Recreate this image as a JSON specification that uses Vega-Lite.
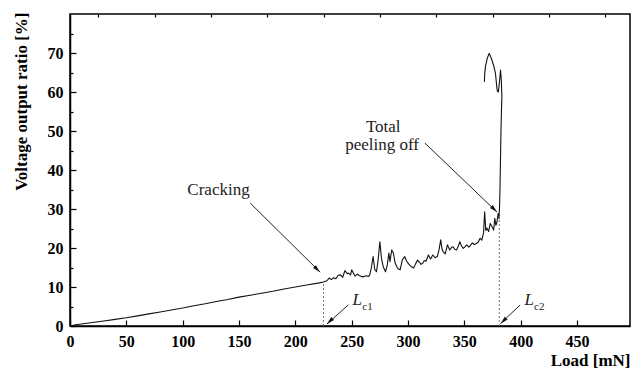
{
  "$schema": "https://vega.github.io/schema/vega-lite/v6.json",
  "width": 560,
  "height": 312,
  "autosize": {"type": "none"},
  "padding": {"left": 70, "top": 14, "right": 6, "bottom": 44},
  "background": "white",
  "config": {
    "view": {"stroke": "black", "strokeWidth": 1.5},
    "font": "Liberation Serif",
    "axis": {
      "domainColor": "black", "domainWidth": 1.5, "tickColor": "black", "tickWidth": 1.2,
      "labelFont": "Liberation Serif", "labelFontWeight": "bold", "labelFontSize": 16, "labelColor": "black",
      "titleFont": "Liberation Serif", "titleFontWeight": "bold", "titleFontSize": 17, "titleColor": "black",
      "grid": false, "labelFlush": false
    },
    "text": {"font": "Liberation Serif"}
  },
  "datasets": {
    "curve": [
      {"i":1,"x":0,"y":0},{"i":2,"x":5,"y":0.3},{"i":3,"x":10,"y":0.5},{"i":4,"x":20,"y":0.9},{"i":5,"x":30,"y":1.3},
      {"i":6,"x":40,"y":1.7},{"i":7,"x":50,"y":2.1},{"i":8,"x":60,"y":2.6},{"i":9,"x":70,"y":3.1},{"i":10,"x":80,"y":3.6},
      {"i":11,"x":90,"y":4.1},{"i":12,"x":100,"y":4.6},{"i":13,"x":110,"y":5.2},{"i":14,"x":120,"y":5.7},{"i":15,"x":130,"y":6.3},
      {"i":16,"x":140,"y":6.8},{"i":17,"x":150,"y":7.4},{"i":18,"x":160,"y":7.9},{"i":19,"x":170,"y":8.4},{"i":20,"x":180,"y":8.9},
      {"i":21,"x":190,"y":9.5},{"i":22,"x":200,"y":10.0},{"i":23,"x":210,"y":10.5},{"i":24,"x":220,"y":11.0},{"i":25,"x":225,"y":11.3},
      {"i":26,"x":228,"y":11.6},{"i":27,"x":230,"y":12.3},{"i":28,"x":232,"y":11.9},{"i":29,"x":234,"y":12.4},{"i":30,"x":236,"y":12.1},
      {"i":31,"x":238,"y":13.0},{"i":32,"x":240,"y":13.1},{"i":33,"x":242,"y":12.5},{"i":34,"x":244,"y":14.2},{"i":35,"x":246,"y":13.4},
      {"i":36,"x":247,"y":13.6},{"i":37,"x":249,"y":13.1},{"i":38,"x":250,"y":14.4},{"i":39,"x":251.5,"y":13.6},{"i":40,"x":253,"y":12.8},
      {"i":41,"x":255,"y":13.3},{"i":42,"x":257,"y":12.9},{"i":43,"x":260,"y":12.6},{"i":44,"x":263,"y":12.9},{"i":45,"x":265,"y":12.7},
      {"i":46,"x":266,"y":13.1},{"i":47,"x":267.5,"y":15.0},{"i":48,"x":269,"y":17.8},{"i":49,"x":270.5,"y":14.5},{"i":50,"x":272,"y":13.9},
      {"i":51,"x":273.5,"y":17.0},{"i":52,"x":275,"y":21.6},{"i":53,"x":276.5,"y":17.2},{"i":54,"x":278,"y":15.2},{"i":55,"x":280,"y":13.9},
      {"i":56,"x":281.5,"y":15.5},{"i":57,"x":283,"y":18.7},{"i":58,"x":284,"y":16.5},{"i":59,"x":285.5,"y":19.5},{"i":60,"x":287,"y":18.7},
      {"i":61,"x":288.5,"y":16.2},{"i":62,"x":290,"y":15.2},{"i":63,"x":291.5,"y":14.6},{"i":64,"x":293,"y":14.4},{"i":65,"x":295,"y":17.0},
      {"i":66,"x":297,"y":17.8},{"i":67,"x":298.5,"y":16.8},{"i":68,"x":300,"y":16.1},{"i":69,"x":301.5,"y":15.6},{"i":70,"x":303,"y":15.2},
      {"i":71,"x":305,"y":14.9},{"i":72,"x":306.5,"y":15.8},{"i":73,"x":308.5,"y":16.9},{"i":74,"x":310,"y":16.4},{"i":75,"x":311.5,"y":15.8},
      {"i":76,"x":313,"y":16.1},{"i":77,"x":314.5,"y":16.8},{"i":78,"x":316,"y":16.6},{"i":79,"x":318,"y":18.2},{"i":80,"x":320,"y":17.2},
      {"i":81,"x":322,"y":18.2},{"i":82,"x":324,"y":17.5},{"i":83,"x":326,"y":17.8},{"i":84,"x":327.5,"y":19.5},{"i":85,"x":329,"y":22.1},
      {"i":86,"x":330,"y":20.0},{"i":87,"x":331,"y":19.1},{"i":88,"x":333,"y":18.5},{"i":89,"x":335,"y":20.8},{"i":90,"x":337,"y":19.5},
      {"i":91,"x":338.5,"y":20.1},{"i":92,"x":340,"y":20.3},{"i":93,"x":341.5,"y":19.6},{"i":94,"x":343,"y":19.5},{"i":95,"x":344.5,"y":20.4},
      {"i":96,"x":346,"y":21.6},{"i":97,"x":347.5,"y":20.5},{"i":98,"x":349,"y":19.9},{"i":99,"x":350.5,"y":20.3},{"i":100,"x":352,"y":20.8},
      {"i":101,"x":354,"y":20.2},{"i":102,"x":355.5,"y":20.7},{"i":103,"x":357,"y":21.3},{"i":104,"x":359,"y":20.9},{"i":105,"x":361,"y":21.2},
      {"i":106,"x":362.5,"y":21.6},{"i":107,"x":364,"y":22.5},{"i":108,"x":365.5,"y":22.0},{"i":109,"x":367,"y":23.8},{"i":110,"x":368,"y":29.3},
      {"i":111,"x":369,"y":24.5},{"i":112,"x":370,"y":25.1},{"i":113,"x":371.5,"y":24.2},{"i":114,"x":373,"y":26.3},{"i":115,"x":374.5,"y":25.5},
      {"i":116,"x":376,"y":24.6},{"i":117,"x":377,"y":27.6},{"i":118,"x":378,"y":25.8},{"i":119,"x":379,"y":26.8},{"i":120,"x":380,"y":28.9},
      {"i":121,"x":380.8,"y":27.5},{"i":122,"x":381.2,"y":30.5},{"i":123,"x":381.6,"y":35},{"i":124,"x":381.9,"y":40},{"i":125,"x":382.2,"y":45},
      {"i":126,"x":382.5,"y":50},{"i":127,"x":382.9,"y":55},{"i":128,"x":383.3,"y":58.8},{"i":129,"x":382.8,"y":63},{"i":130,"x":382.1,"y":65.6},
      {"i":131,"x":381.3,"y":63},{"i":132,"x":380.2,"y":60},{"i":133,"x":379.2,"y":60.3},{"i":134,"x":378.7,"y":61.5},{"i":135,"x":377.6,"y":64.8},
      {"i":136,"x":376.2,"y":66.6},{"i":137,"x":374,"y":68.6},{"i":138,"x":372,"y":69.9},{"i":139,"x":370.3,"y":68.6},{"i":140,"x":368.7,"y":66.5},
      {"i":141,"x":368,"y":64.5},{"i":142,"x":367.8,"y":62.6}
    ],
    "drops": [{"x":225,"y":0,"y2":11.3},{"x":381,"y":0,"y2":29}],
    "arrowsRight": [
      {"x":160,"y":31.5,"x2":222,"y2":13.8},
      {"x":315,"y":46.9,"x2":379,"y2":29.2}
    ],
    "arrowsLeft": [
      {"x":247,"y":5.4,"x2":228,"y2":0.5},
      {"x":399.5,"y":5.4,"x2":382,"y2":0.6}
    ],
    "notes": [
      {"x":131.8,"y":34.9,"t":"Cracking"},
      {"x":278,"y":51,"t":"Total"},
      {"x":277,"y":46.4,"t":"peeling off"}
    ],
    "ell": [{"x":255,"y":6.7,"t":"L"},{"x":407.5,"y":6.7,"t":"L"}],
    "subs": [{"x":264,"y":5.0,"t":"c1"},{"x":416.5,"y":5.0,"t":"c2"}]
  },
  "resolve": {"axis": {"x": "independent", "y": "independent"}},
  "layer": [
    {
      "data": {"name": "curve"},
      "mark": {"type": "line", "color": "#111111", "strokeWidth": 1.1, "strokeJoin": "round"},
      "encoding": {
        "x": {"field": "x", "type": "quantitative", "scale": {"domain": [0, 497], "nice": false},
          "axis": {"values": [0,50,100,150,200,250,300,350,400,450], "tickSize": -6, "labelPadding": 13,
            "title": "Load [mN]", "titleX": 560, "titleY": 39, "titleAlign": "right", "titleBaseline": "alphabetic"}},
        "y": {"field": "y", "type": "quantitative", "scale": {"domain": [0, 80], "nice": false},
          "axis": {"values": [0,10,20,30,40,50,60,70], "tickSize": -6, "labelPadding": 13,
            "title": "Voltage output ratio [%]", "titleX": -44, "titleY": -2, "titleAlign": "right", "titleBaseline": "alphabetic", "titleAngle": -90}},
        "order": {"field": "i", "type": "quantitative"}
      }
    },
    {
      "data": {"name": "drops"},
      "mark": {"type": "rule", "color": "#777777", "strokeWidth": 1, "strokeDash": [2, 2]},
      "encoding": {
        "x": {"field": "x", "type": "quantitative", "scale": {"domain": [0, 497], "nice": false},
          "axis": {"values": [25,75,125,175,225,275,325,375,425,475], "tickSize": -3, "labels": false, "title": null, "domain": false}},
        "y": {"field": "y", "type": "quantitative", "scale": {"domain": [0, 80], "nice": false},
          "axis": {"values": [5,15,25,35,45,55,65,75], "tickSize": -3, "labels": false, "title": null, "domain": false, "orient": "left"}},
        "y2": {"field": "y2"}
      }
    },
    {
      "data": {"name": "arrowsRight"},
      "mark": {"type": "rule", "color": "#222222", "strokeWidth": 1},
      "encoding": {
        "x": {"field": "x", "type": "quantitative", "axis": null},
        "y": {"field": "y", "type": "quantitative", "axis": null},
        "x2": {"field": "x2"}, "y2": {"field": "y2"}
      }
    },
    {
      "data": {"name": "arrowsLeft"},
      "mark": {"type": "rule", "color": "#222222", "strokeWidth": 1},
      "encoding": {
        "x": {"field": "x", "type": "quantitative", "axis": null},
        "y": {"field": "y", "type": "quantitative", "axis": null},
        "x2": {"field": "x2"}, "y2": {"field": "y2"}
      }
    },
    {
      "data": {"name": "arrowsRight"},
      "mark": {"type": "point", "shape": "M0,0L-0.4,1.6L0.4,1.6Z", "filled": true, "color": "#111111", "opacity": 1, "size": 100, "angle": 134.5},
      "encoding": {
        "x": {"field": "x2", "type": "quantitative", "axis": null},
        "y": {"field": "y2", "type": "quantitative", "axis": null}
      }
    },
    {
      "data": {"name": "arrowsLeft"},
      "mark": {"type": "point", "shape": "M0,0L-0.4,1.6L0.4,1.6Z", "filled": true, "color": "#111111", "opacity": 1, "size": 100, "angle": 226},
      "encoding": {
        "x": {"field": "x2", "type": "quantitative", "axis": null},
        "y": {"field": "y2", "type": "quantitative", "axis": null}
      }
    },
    {
      "data": {"name": "notes"},
      "mark": {"type": "text", "font": "Liberation Serif", "fontSize": 17, "color": "#222222", "align": "center", "baseline": "middle"},
      "encoding": {
        "x": {"field": "x", "type": "quantitative", "axis": null},
        "y": {"field": "y", "type": "quantitative", "axis": null},
        "text": {"field": "t"}
      }
    },
    {
      "data": {"name": "ell"},
      "mark": {"type": "text", "font": "Liberation Serif", "fontSize": 17, "fontStyle": "italic", "color": "#222222", "align": "center", "baseline": "middle"},
      "encoding": {
        "x": {"field": "x", "type": "quantitative", "axis": null},
        "y": {"field": "y", "type": "quantitative", "axis": null},
        "text": {"field": "t"}
      }
    },
    {
      "data": {"name": "subs"},
      "mark": {"type": "text", "font": "Liberation Serif", "fontSize": 11, "color": "#222222", "align": "center", "baseline": "middle"},
      "encoding": {
        "x": {"field": "x", "type": "quantitative", "axis": null},
        "y": {"field": "y", "type": "quantitative", "axis": null},
        "text": {"field": "t"}
      }
    }
  ]
}
